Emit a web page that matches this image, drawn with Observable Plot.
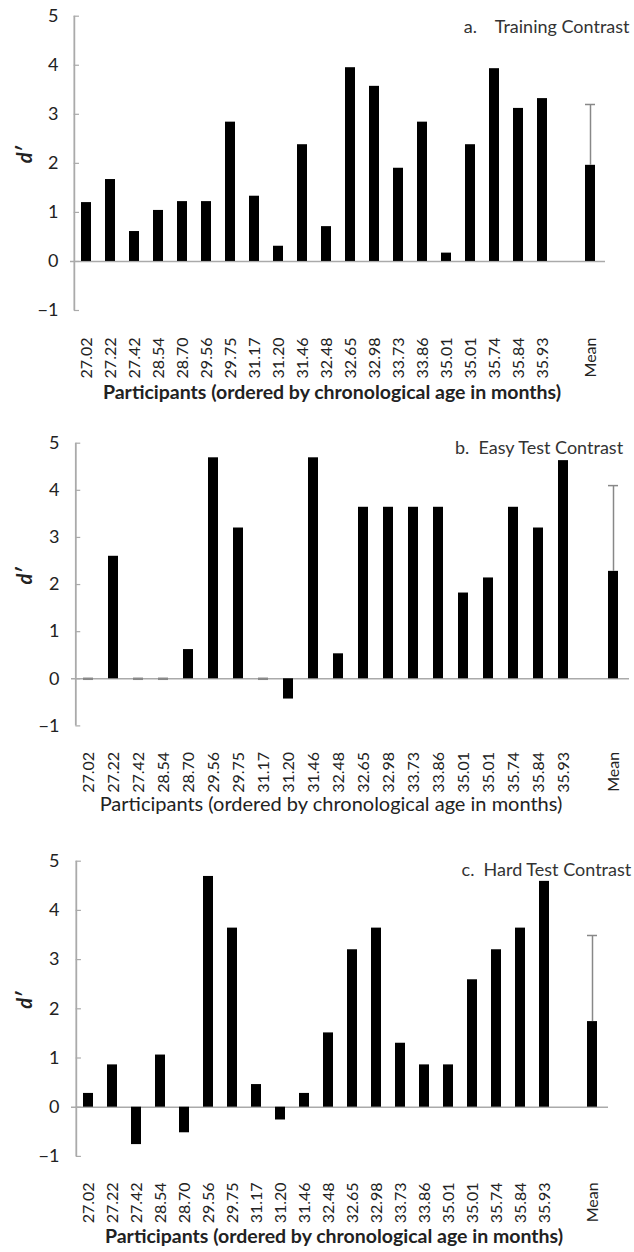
<!DOCTYPE html>
<html><head><meta charset="utf-8">
<script src="https://cdn.jsdelivr.net/npm/d3@7"></script>
<script src="https://cdn.jsdelivr.net/npm/@observablehq/plot@0.6"></script>
<style>
body{margin:0;background:#fff;}
#chart{width:634px;}
#chart svg{display:block;}
</style></head><body><div id="chart"></div>
<script>
// Participants ordered by chronological age in months
const participants = ["27.02","27.22","27.42","28.54","28.70","29.56","29.75","31.17","31.20","31.46",
  "32.48","32.65","32.98","33.73","33.86","35.01","35.01","35.74","35.84","35.93"];
const trainingValues = [1.20,1.67,0.61,1.04,1.22,1.22,2.84,1.33,0.31,2.38,
  0.71,3.95,3.57,1.90,2.84,0.17,2.38,3.93,3.12,3.32];
const easyValues = [0,2.60,0,0,0.62,4.69,3.20,0,-0.43,4.69,
  0.53,3.64,3.64,3.64,3.64,1.82,2.14,3.64,3.20,4.63];
const hardValues = [0.28,0.86,-0.76,1.06,-0.52,4.69,3.64,0.46,-0.26,0.28,
  1.51,3.20,3.64,1.30,0.86,0.86,2.59,3.20,3.64,4.59];
const meanLabel = "Mean";
const meanValues = [1.96, 2.28, 1.74];
const errorUpper = [3.20, 4.10, 3.49];
const panelTitles = ["a.\u00a0\u00a0\u00a0\u00a0Training Contrast", "b.\u00a0\u00a0Easy Test Contrast", "c.\u00a0\u00a0Hard Test Contrast"];
const xTitle = "Participants (ordered by chronological age in months)";
const yTitle = "d\u2032";
const yTicks = [-1, 0, 1, 2, 3, 4, 5];
const panelValues = [trainingValues, easyValues, hardValues];

const layouts = [
  {height:410, top:15.7, bottom:100, left:70, right:29, xPad:27, tDx:24, tDy:17, xtDx:-6, xtDy:88, bold:true, xtSize:19.5},
  {height:420, top:32.7, bottom:104.6, left:71, right:5, xPad:26, tDx:-6.4, tDy:10.3, xtDx:-19.5, xtDy:85, bold:false, xtSize:20},
  {height:422, top:30.7, bottom:96.1, left:71, right:26, xPad:26, tDx:22.7, tDy:14.3, xtDx:-6, xtDy:86.5, bold:true, xtSize:19.5}
];

const fmt = d => d < 0 ? "\u2212" + Math.abs(d) : String(d);

function panel(k) {
  const L = layouts[k];
  const values = panelValues[k];
  const n = participants.length;
  const slots = d3.range(n + 2);
  const meanSlot = n + 1;
  const step = (634 - L.left - L.right) / slots.length;
  const rows = values.map((v, i) => ({slot: i, v}));
  rows.push({slot: meanSlot, v: meanValues[k]});
  const err = [{slot: meanSlot, lo: meanValues[k], hi: errorUpper[k]}];
  const tickSlots = slots.filter(s => s !== n);
  return Plot.plot({
    width: 634, height: L.height,
    marginTop: L.top, marginBottom: L.bottom, marginLeft: L.left, marginRight: L.right,
    style: {fontFamily: "Lato, 'Open Sans', sans-serif", color: "#222", background: "#fff"},
    x: {type: "band", domain: slots, paddingInner: 0.6, paddingOuter: 0.3, label: null},
    y: {domain: [-1, 5], label: null},
    marks: [
      Plot.ruleY([0], {stroke: "#aaa", strokeWidth: 1.5}),
      // vertical value axis line and inward ticks at the left edge of the first category slot
      Plot.ruleX([slots[0]], {x: d => d, y1: yTicks[0], y2: yTicks[yTicks.length - 1], dx: -step / 2, stroke: "#aaa", strokeWidth: 1.8}),
      Plot.tickY(yTicks, {x: () => slots[0], y: d => d, dx: -0.3 * step, insetRight: 0.4 * step - 5, stroke: "#aaa", strokeWidth: 1.2}),
      Plot.axisY({ticks: yTicks, tickFormat: fmt, tickSize: 0, tickPadding: 12, fontSize: 18, label: null}),
      Plot.axisX({ticks: tickSlots, tickFormat: s => s === meanSlot ? meanLabel : participants[s],
        tickRotate: -90, tickSize: 0, tickPadding: L.xPad, fontSize: 16, label: null}),
      Plot.barY(rows, {x: "slot", y: "v", fill: "#000"}),
      Plot.tickY(rows.filter(d => d.v === 0), {x: "slot", y: "v", stroke: "#888", strokeWidth: 2.5}),
      Plot.ruleX(err, {x: "slot", y1: "lo", y2: "hi", stroke: "#888", strokeWidth: 1.5}),
      Plot.tickY(err, {x: "slot", y: "hi", stroke: "#888", strokeWidth: 1.5}),
      Plot.text([panelTitles[k]], {text: d => d, frameAnchor: "top-right", textAnchor: "end", lineAnchor: "bottom",
        dx: L.tDx, dy: L.tDy, fontSize: 18, fill: "#333"}),
      Plot.text([2], {y: d => d, text: () => yTitle, frameAnchor: "left", dx: 25 - L.left, rotate: -90,
        fontSize: 20, fontWeight: "bold", fontStyle: "italic", fill: "#222"}),
      Plot.text([xTitle], {text: d => d, frameAnchor: "bottom", lineAnchor: "bottom", dx: L.xtDx, dy: L.xtDy,
        fontSize: L.xtSize, fontWeight: L.bold ? "bold" : "normal", fill: "#222"})
    ]
  });
}

const chart = document.getElementById("chart");
for (let k = 0; k < 3; k++) chart.appendChild(panel(k));
</script>
</body></html>
